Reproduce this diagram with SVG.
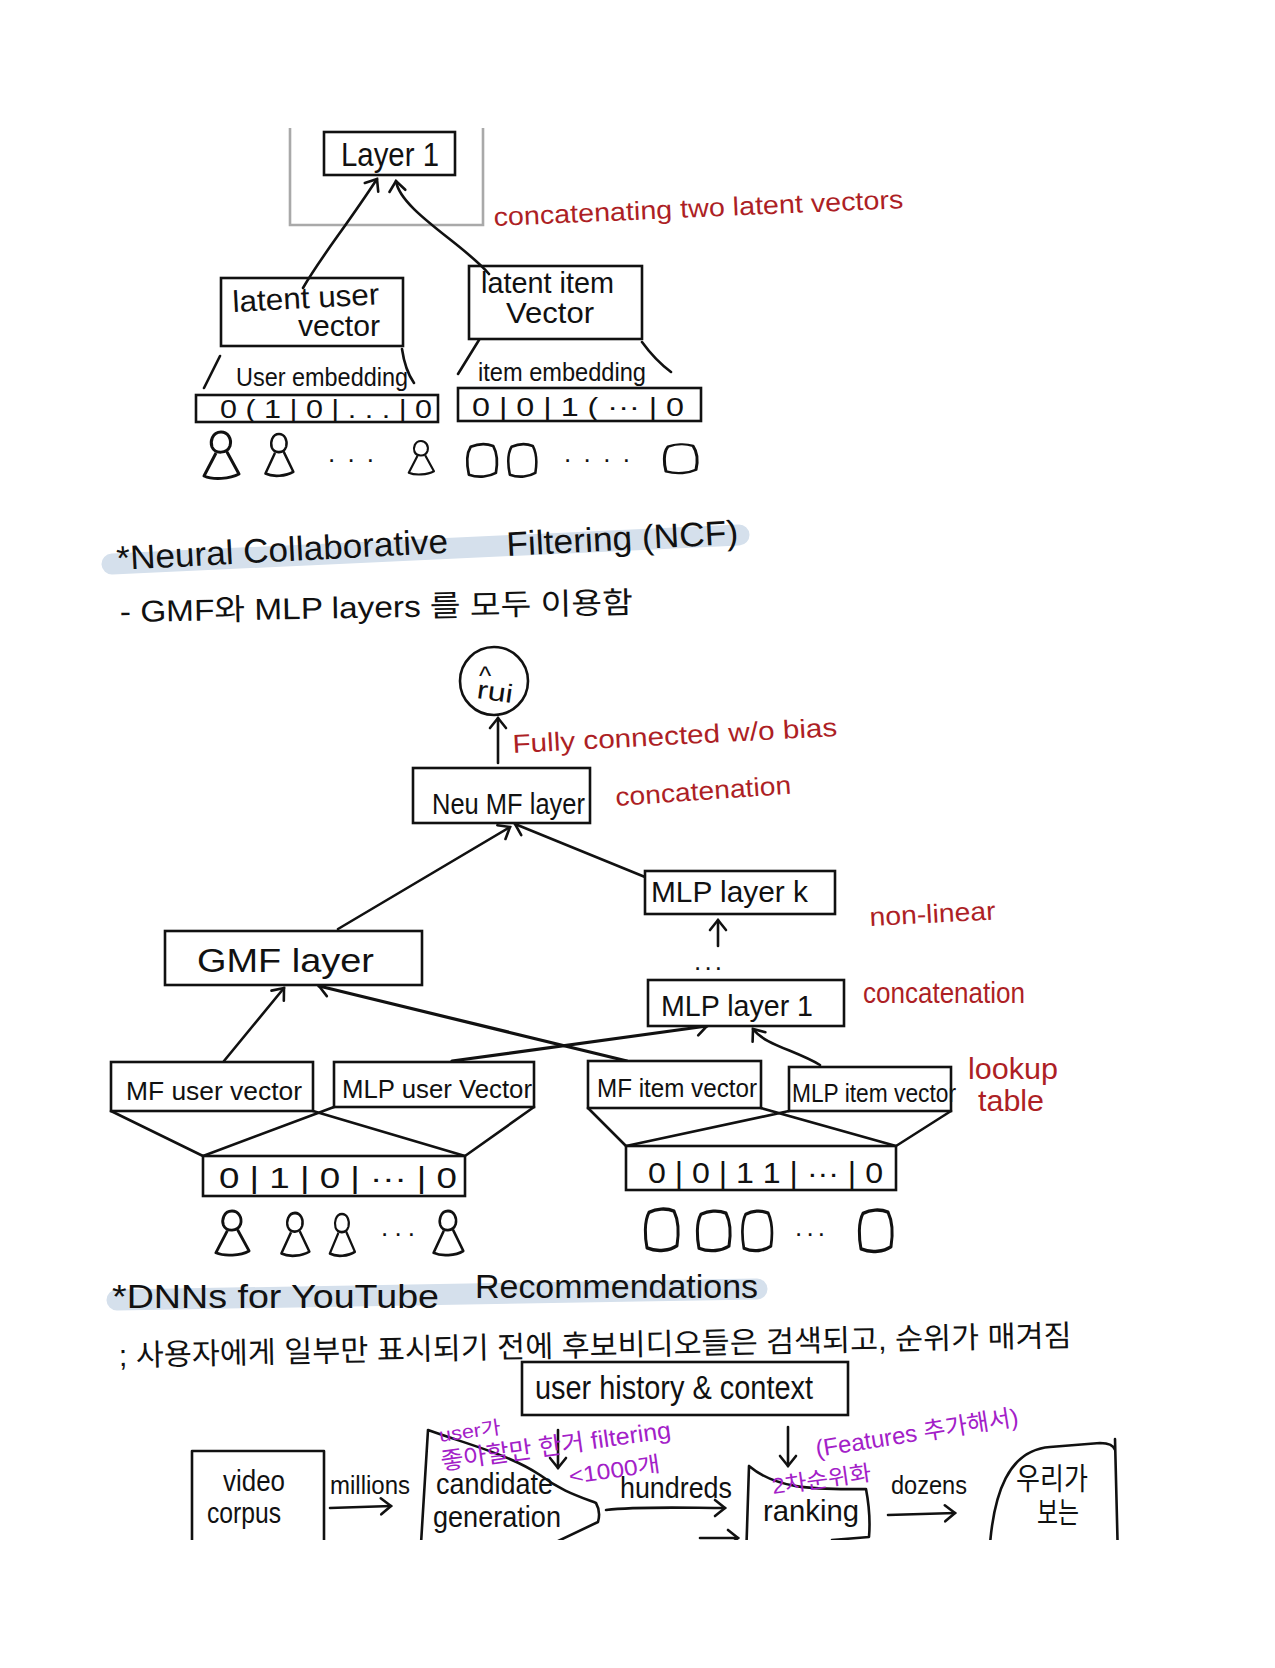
<svg xmlns="http://www.w3.org/2000/svg" width="1275" height="1668" viewBox="0 0 1275 1668">
<style>
text{font-family:"Liberation Sans","Noto Sans CJK KR",sans-serif;fill:#111}
.s{font-size:26px}.m{font-size:30px}.l{font-size:34px}
.r{fill:#ad1f25}.p{fill:#a320c8}
.b{fill:#fff;stroke:#111;stroke-width:2.6}
.n{fill:none;stroke:#111;stroke-width:2.6;stroke-linecap:round;stroke-linejoin:round}
.a{marker-end:url(#h)}
.o{fill:none;stroke:#111;stroke-width:3;stroke-linejoin:round}
.hl{fill:none;stroke:#d5e0ec;stroke-width:21;stroke-linecap:round}
</style>
<defs>
<marker id="h" markerUnits="userSpaceOnUse" markerWidth="24" markerHeight="24" refX="16" refY="12" orient="auto">
<path d="M6 4L16 12L6 20" fill="none" stroke="#111" stroke-width="2.6" stroke-linecap="round"/>
</marker>
<clipPath id="bc"><rect x="0" y="1300" width="1275" height="240"/></clipPath>
<path id="person" d="M0 0C-9 0-11 10-9 15C-6 22 6 22 9 14C11 7 7 0 0 0ZM-5 21L-17 44C-8 48 9 47 18 42L6 20"/>
<path id="item" d="M3 2C-2 10-1 24 1 33C12 37 24 35 31 31C33 20 33 10 28 1C20-2 10-1 3 2Z"/>
</defs>
<rect width="1275" height="1668" fill="#fff"/>

<path id="frame" d="M290 128V225H483V128" fill="none" stroke="#a9a9a9" stroke-width="2.6"/>
<g id="connectors">
<path class="n a" d="M303 288C320 258 345 228 377 179"/>
<path class="n a" d="M489 274C465 245 400 210 396 181"/>
<path class="n" d="M220 356L204 388M402 349Q405 370 414 383M479 340L458 374M642 342Q655 360 671 372"/>
<path class="n a" d="M498 763V718"/>
<path class="n a" d="M338 929L510 827"/>
<path class="n a" d="M645 877L515 824"/>
<path class="n a" d="M718 946V920"/>
<path class="n a" d="M224 1061L284 988"/>
<path class="n a" d="M627 1061L319 986" style="stroke-width:3.2"/>
<path class="n a" d="M452 1061L707 1026" style="stroke-width:3.2"/>
<path class="n a" d="M820 1065C795 1050 765 1045 753 1029"/>
<path class="n" d="M111 1111L203 1156M313 1111L465 1156M334 1107L203 1156M534 1107L465 1156"/>
<path class="n" d="M588 1108L626 1146M761 1108L896 1146M789 1111L626 1146M951 1111L896 1146"/>
<g clip-path="url(#bc)">
<path class="n a" d="M558 1430V1468"/>
<path class="n a" d="M788 1427V1466"/>
<path class="n a" d="M330 1508L391 1506"/>
<path class="n a" d="M606 1510C640 1506 690 1508 725 1508"/>
<path class="n a" d="M700 1538H738"/>
<path class="n a" d="M888 1515L955 1513"/>
</g>
</g>

<g id="layer1"><rect class="b" x="324" y="132" width="131" height="43"/><text class="l" x="341" y="166" textLength="98" lengthAdjust="spacingAndGlyphs">Layer 1</text></g>
<g id="latent-user"><rect class="b" x="221" y="278" width="182" height="68" style="fill:none"/><text class="m" x="233" y="312" textLength="147" lengthAdjust="spacingAndGlyphs" transform="rotate(-3 233 312)">latent user</text><text class="m" x="298" y="336" textLength="82" lengthAdjust="spacingAndGlyphs">vector</text></g>
<g id="latent-item"><rect class="b" x="469" y="266" width="173" height="73" style="fill:none"/><text class="m" x="481" y="293" textLength="133" lengthAdjust="spacingAndGlyphs">latent item</text><text class="m" x="506" y="323" textLength="88" lengthAdjust="spacingAndGlyphs">Vector</text></g>
<g id="user-embed"><text class="s" x="236" y="386" textLength="172" lengthAdjust="spacingAndGlyphs">User embedding</text><rect class="b" x="196" y="395" width="242" height="27" style="fill:none"/><text class="s" x="220" y="418" textLength="212" lengthAdjust="spacingAndGlyphs">0 ( 1 | 0 | . . . | 0</text></g>
<g id="item-embed"><text class="s" x="478" y="381" textLength="168" lengthAdjust="spacingAndGlyphs">item embedding</text><rect class="b" x="458" y="388" width="243" height="33" style="fill:none"/><text class="s" x="472" y="416" textLength="212" lengthAdjust="spacingAndGlyphs">0 | 0 | 1 ( ··· | 0</text></g>
<g id="top-icons" class="o">
<use href="#person" transform="translate(221 432)"/><use href="#person" transform="translate(279 434) scale(.8 .9)"/>
<use href="#person" transform="translate(421 441) scale(.72 .72)"/>
<use href="#item" transform="translate(468 445) scale(.9)"/><use href="#item" transform="translate(509 445) scale(.85 .9)"/>
<use href="#item" transform="translate(665 445) scale(1 .8)"/>
</g>
<text id="top-dots-a" class="s" x="328" y="462" textLength="46" lengthAdjust="spacing">. . .</text>
<text id="top-dots-b" class="s" x="564" y="462" textLength="66" lengthAdjust="spacing">. . . .</text>
<text id="note-concat-two" class="s r" x="494" y="226" textLength="410" lengthAdjust="spacingAndGlyphs" transform="rotate(-2.5 494 226)">concatenating two  latent vectors</text>

<g id="ncf-title"><path class="hl" d="M112 564L739 535"/><text class="l" x="117" y="570" textLength="332" lengthAdjust="spacingAndGlyphs" transform="rotate(-3 117 570)">*Neural Collaborative</text><text class="l" x="507" y="556" textLength="232" lengthAdjust="spacingAndGlyphs" transform="rotate(-3 507 556)">Filtering (NCF)</text></g>
<text id="ncf-sub" class="m" x="120" y="622" textLength="513" lengthAdjust="spacingAndGlyphs" transform="rotate(-1 120 622)">- GMF와 MLP  layers 를 모두 이용함</text>
<g id="rui"><circle class="n" cx="494" cy="681" r="34"/><text class="s" x="479" y="685">^</text><text class="s" x="476" y="698" textLength="36" lengthAdjust="spacingAndGlyphs" transform="rotate(8 476 698)">rui</text></g>
<text id="note-fc" class="s r" x="513" y="753" textLength="325" lengthAdjust="spacingAndGlyphs" transform="rotate(-3 513 753)">Fully connected w/o bias</text>
<g id="neumf"><rect class="b" x="413" y="768" width="177" height="55"/><text class="m" x="432" y="814" textLength="153" lengthAdjust="spacingAndGlyphs">Neu MF layer</text></g>
<text id="note-concat-1" class="s r" x="616" y="806" textLength="176" lengthAdjust="spacingAndGlyphs" transform="rotate(-4 616 806)">concatenation</text>
<g id="mlp-k"><rect class="b" x="645" y="871" width="190" height="43"/><text class="m" x="651" y="902" textLength="157" lengthAdjust="spacingAndGlyphs">MLP layer k</text></g>
<text id="note-nonlinear" class="s r" x="870" y="926" textLength="126" lengthAdjust="spacingAndGlyphs" transform="rotate(-3 870 926)">non-linear</text>
<text id="mlp-dots" class="s" x="694" y="970" textLength="28" lengthAdjust="spacing">...</text>
<g id="gmf"><rect class="b" x="165" y="931" width="257" height="54"/><text class="l" x="197" y="972" textLength="177" lengthAdjust="spacingAndGlyphs">GMF layer</text></g>
<g id="mlp-1"><rect class="b" x="648" y="980" width="196" height="46"/><text class="m" x="661" y="1016" textLength="152" lengthAdjust="spacingAndGlyphs">MLP layer 1</text></g>
<text id="note-concat-2" class="m r" x="863" y="1003" textLength="162" lengthAdjust="spacingAndGlyphs">concatenation</text>
<g id="mf-user"><rect class="b" x="111" y="1062" width="202" height="49"/><text class="s" x="126" y="1100" textLength="176" lengthAdjust="spacingAndGlyphs">MF user vector</text></g>
<g id="mlp-user"><rect class="b" x="334" y="1062" width="200" height="45"/><text class="s" x="342" y="1098" textLength="190" lengthAdjust="spacingAndGlyphs">MLP user Vector</text></g>
<g id="mf-item"><rect class="b" x="588" y="1061" width="173" height="47"/><text class="s" x="597" y="1097" textLength="160" lengthAdjust="spacingAndGlyphs">MF item vector</text></g>
<g id="mlp-item"><rect class="b" x="789" y="1067" width="162" height="44"/><text class="s" x="792" y="1102" textLength="164" lengthAdjust="spacingAndGlyphs">MLP item vector</text></g>
<g id="note-lookup"><text class="m r" x="968" y="1079" textLength="90" lengthAdjust="spacingAndGlyphs">lookup</text><text class="m r" x="978" y="1111" textLength="66" lengthAdjust="spacingAndGlyphs">table</text></g>
<g id="user-bar"><rect class="b" x="203" y="1156" width="262" height="40" style="fill:none"/><text class="m" x="219" y="1188" textLength="238" lengthAdjust="spacingAndGlyphs">0 | 1 | 0 | ··· | 0</text></g>
<g id="item-bar"><rect class="b" x="626" y="1146" width="270" height="44" style="fill:none"/><text class="m" x="648" y="1183" textLength="235" lengthAdjust="spacingAndGlyphs">0 | 0 | 1 1 | ··· | 0</text></g>
<g id="bottom-icons" class="o">
<use href="#person" transform="translate(232 1211) scale(.95 .95)"/><use href="#person" transform="translate(295 1213) scale(.8 .92)"/>
<use href="#person" transform="translate(342 1214) scale(.72 .9)"/><use href="#person" transform="translate(448 1211) scale(.85 .95)"/>
<use href="#item" transform="translate(646 1210) scale(1 1.15)"/><use href="#item" transform="translate(698 1212) scale(1 1.1)"/>
<use href="#item" transform="translate(743 1212) scale(.9 1.1)"/><use href="#item" transform="translate(860 1211) scale(1 1.15)"/>
</g>
<text id="bottom-dots-user" class="s" x="381" y="1236" textLength="34" lengthAdjust="spacing">...</text>
<text id="bottom-dots" class="s" x="795" y="1236" textLength="30" lengthAdjust="spacing">...</text>

<g id="dnn-title"><path class="hl" d="M117 1300L757 1289"/><text class="l" x="112" y="1308" textLength="327" lengthAdjust="spacingAndGlyphs">*DNNs  for  YouTube</text><text class="l" x="475" y="1298" textLength="283" lengthAdjust="spacingAndGlyphs">Recommendations</text></g>
<text id="dnn-sub" class="m" x="119" y="1366" textLength="953" lengthAdjust="spacingAndGlyphs" transform="rotate(-1.2 119 1366)">; 사용자에게 일부만   표시되기  전에  후보비디오들은  검색되고, 순위가  매겨짐</text>
<g id="user-history"><rect class="b" x="522" y="1362" width="326" height="53"/><text class="l" x="535" y="1399" textLength="278" lengthAdjust="spacingAndGlyphs">user history &amp; context</text></g>

<g clip-path="url(#bc)">
<g id="video-corpus"><path class="n" d="M192 1560V1451H324V1560"/><text class="m" x="223" y="1491" textLength="62" lengthAdjust="spacingAndGlyphs">video</text><text class="m" x="207" y="1523" textLength="74" lengthAdjust="spacingAndGlyphs">corpus</text></g>
<text id="label-millions" class="s" x="330" y="1494" textLength="80" lengthAdjust="spacingAndGlyphs">millions</text>
<g id="candidate"><path class="n" d="M428 1430C470 1445 510 1455 540 1475C560 1490 575 1495 596 1503C600 1510 600 1515 598 1522L556 1542M428 1430L420 1560"/><text class="m" x="436" y="1494" textLength="117" lengthAdjust="spacingAndGlyphs">candidate</text><text class="m" x="433" y="1527" textLength="128" lengthAdjust="spacingAndGlyphs">generation</text></g>
<text id="label-hundreds" class="m" x="620" y="1498" textLength="112" lengthAdjust="spacingAndGlyphs">hundreds</text>
<g id="ranking"><path class="n" d="M749 1466C775 1488 810 1490 866 1489C870 1510 870 1525 869 1537L832 1540M749 1466L746 1560"/><text class="m" x="763" y="1521" textLength="96" lengthAdjust="spacingAndGlyphs">ranking</text></g>
<text id="label-dozens" class="s" x="891" y="1494" textLength="76" lengthAdjust="spacingAndGlyphs">dozens</text>
<g id="output"><path class="n" d="M989 1560C992 1490 1010 1450 1050 1447L1100 1443Q1113 1443 1115 1450M1115 1439L1118 1560"/><text class="m" x="1016" y="1489" textLength="72" lengthAdjust="spacingAndGlyphs">우리가</text><text class="m" x="1037" y="1523" textLength="42" lengthAdjust="spacingAndGlyphs">보는</text></g>
</g>
<g id="purple-notes">
<text class="p" style="font-size:19px" x="440" y="1442" textLength="62" lengthAdjust="spacingAndGlyphs" transform="rotate(-8 440 1442)">user가</text>
<text class="p" style="font-size:24px" x="442" y="1470" textLength="232" lengthAdjust="spacingAndGlyphs" transform="rotate(-8 442 1470)">좋아할만 한거 filtering</text>
<text class="p" style="font-size:22px" x="570" y="1484" textLength="92" lengthAdjust="spacingAndGlyphs" transform="rotate(-8 570 1484)">&lt;1000개</text>
<text class="p" style="font-size:24px" x="817" y="1457" textLength="205" lengthAdjust="spacingAndGlyphs" transform="rotate(-9 817 1457)">(Features 추가해서)</text>
<text class="p" style="font-size:22px" x="773" y="1494" textLength="100" lengthAdjust="spacingAndGlyphs" transform="rotate(-8 773 1494)">2차순위화</text>
</g>
</svg>
